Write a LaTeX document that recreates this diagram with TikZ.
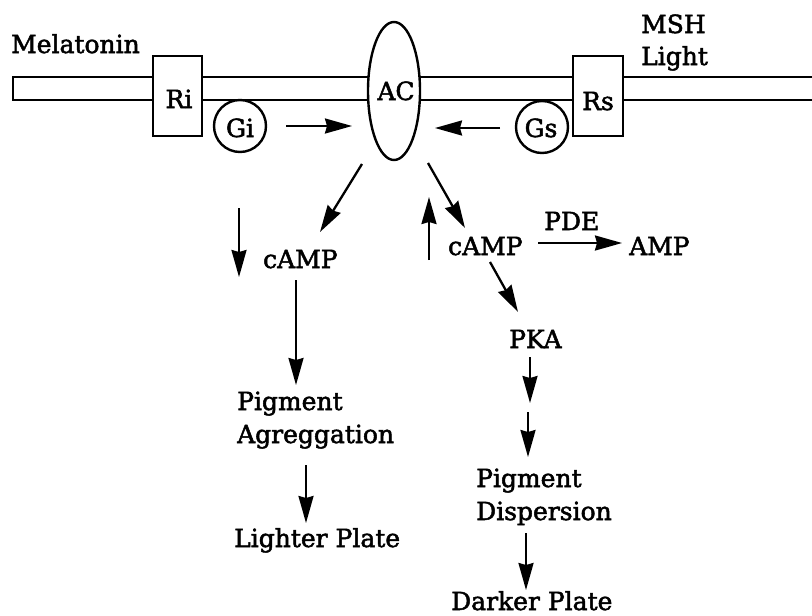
\documentclass[tikz,border=0pt]{standalone}
\usepackage{fontspec}
\setmainfont{DejaVu Serif}[FakeBold=2]
\usetikzlibrary{arrows.meta}
\newcommand\lbfont{\fontsize{25}{30}\selectfont}
\begin{document}
\begin{tikzpicture}[x=1pt,y=-1pt,line width=2.3pt,
  >={Stealth[length=27pt,width=15pt,inset=2pt]},
  lbl/.style={inner sep=0pt,anchor=base west,font=\lbfont},
  clbl/.style={inner sep=0pt,anchor=base,font=\lbfont},
  recbox/.style={draw,fill=white,line width=2.4pt},
  gprot/.style={draw,fill=white,circle,minimum size=52pt,inner sep=0pt,line width=2.4pt},
  arr/.style={->,line width=2.3pt}]
\useasboundingbox (0,0) rectangle (812,616);
% membrane
\draw[line width=2.4pt] (812,77) -- (13,77) -- (13,100) -- (812,100);
% receptors and AC
\draw[recbox] (153,56) rectangle (202,136);
\node[clbl] (ri) at (179,108) {Ri};
\draw[recbox] (573,56) rectangle (623,136);
\node[clbl] (rs) at (598,110) {Rs};
\node[gprot] (gi) at (240,126) {};
\node[clbl] (gitxt) at (240,137) {Gi};
\node[gprot] (gs) at (542,127) {};
\node[clbl] (gstxt) at (541,137) {Gs};
\draw[fill=white,line width=2.4pt] (394,91) ellipse [x radius=26,y radius=69];
\node[clbl] (ac) at (396,100) {AC};
% labels
\node[lbl] (mel) at (10,53) {Melatonin};
\node[lbl] (msh) at (640,33) {MSH};
\node[lbl] (light) at (640,65) {Light};
\node[lbl] (campl) at (262,268) {cAMP};
\node[lbl] (campr) at (447,255) {cAMP};
\node[lbl] (pde) at (543,230) {PDE};
\node[lbl] (amp) at (628,255) {AMP};
\node[lbl] (pka) at (508,348) {PKA};
\node[lbl] (pigA1) at (236,410) {Pigment};
\node[lbl] (pigA2) at (236,443) {Agreggation};
\node[lbl] (light2) at (233,547) {Lighter Plate};
\node[lbl] (pigD1) at (475,487) {Pigment};
\node[lbl] (pigD2) at (475,520) {Dispersion};
\node[lbl] (dark) at (450,610) {Darker Plate};
% arrow end points
\coordinate (giA) at (286,126); \coordinate (giB) at (352,126);
\coordinate (gsA) at (500,128); \coordinate (gsB) at (435,128);
\coordinate (acL) at (362,164); \coordinate (camplT) at (320,232);
\coordinate (acR) at (428,163); \coordinate (camprT) at (465,228);
\coordinate (dnA) at (239,208); \coordinate (dnB) at (239,277);
\coordinate (upA) at (429,260); \coordinate (upB) at (429,197);
\coordinate (camplB) at (296,280); \coordinate (pigAT) at (296,385);
\coordinate (pdeA) at (538,243); \coordinate (pdeB) at (622,243);
\coordinate (camprB) at (490,262); \coordinate (pkaT) at (518,312);
\coordinate (pkaB) at (530,357); \coordinate (midA) at (530,403);
\coordinate (midB) at (528,412); \coordinate (pigDT) at (528,457);
\coordinate (pigDB) at (526,533); \coordinate (darkT) at (526,590);
\coordinate (pigAB) at (306,465); \coordinate (lightT) at (306,523);
% arrows
\draw[arr] (giA) -- (giB);
\draw[arr] (gsA) -- (gsB);
\draw[arr] (acL) -- (camplT);
\draw[arr] (acR) -- (camprT);
\draw[arr] (dnA) -- (dnB);
\draw[arr] (upA) -- (upB);
\draw[arr] (camplB) -- (pigAT);
\draw[arr] (pdeA) -- (pdeB);
\draw[arr] (camprB) -- (pkaT);
\draw[arr] (pkaB) -- (midA);
\draw[arr] (midB) -- (pigDT);
\draw[arr] (pigDB) -- (darkT);
\draw[arr] (pigAB) -- (lightT);
\end{tikzpicture}
\end{document}
